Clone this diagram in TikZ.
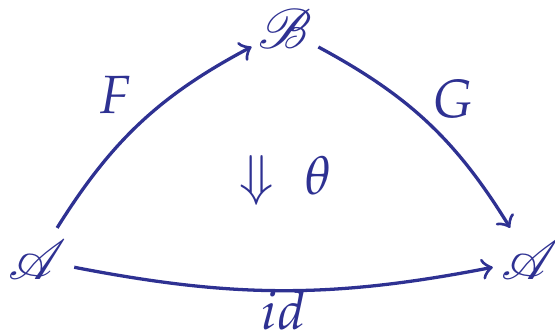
\documentclass[tikz,border=0pt]{standalone}
\usepackage{mathpazo}
\usepackage{mathrsfs}
\definecolor{CatBlue}{HTML}{2E3192}
\tikzset{
  every node/.style={font=\fontsize{11.5}{14}\selectfont},
  obj/.style={circle,inner sep=0pt,minimum size=0.555cm,text=CatBlue},
  mor/.style={CatBlue,line width=0.7pt,->},
  lbl/.style={text=CatBlue,inner sep=0.5pt},
}
\begin{document}
\begin{tikzpicture}[x=0.0075cm,y=-0.0075cm]
  \useasboundingbox (0,0) rectangle (555,335);
  \node[obj] (A1) at (37,260) {$\mathscr{A}$};
  \node[obj] (B) at (285,29) {$\mathscr{B}$};
  \node[obj] (A2) at (530,260) {$\mathscr{A}$};
  \draw[mor] (A1) to[bend left=15] node[lbl,above left=1pt] {$F$} (B);
  \draw[mor] (B) to[bend left=15] node[lbl,above right=0pt] {$G$} (A2);
  \draw[mor] (A1) to[bend right=11] node[lbl,below=-1pt] {$id$} (A2);
  \node[lbl] (theta) at (285,180) {$\Downarrow\;\theta$};
\end{tikzpicture}
\end{document}
